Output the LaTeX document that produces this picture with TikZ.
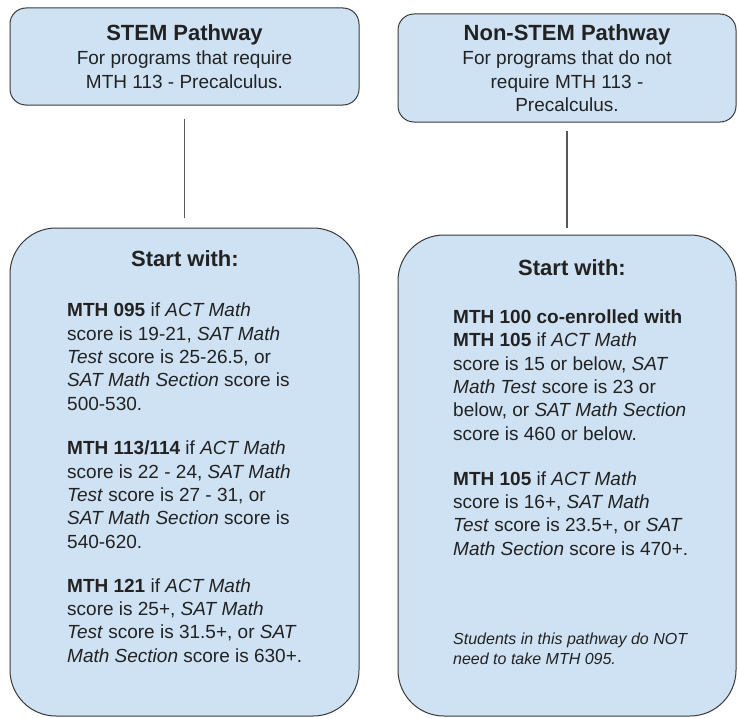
\documentclass[tikz,border=0pt]{standalone}
\usepackage{fontspec}
\setmainfont{Liberation Sans}

\definecolor{boxblue}{HTML}{CFE2F3}
\definecolor{boxline}{HTML}{3A3A3A}
\definecolor{txt}{HTML}{222222}

\tikzset{
  pathbox/.style={draw=boxline, fill=boxblue, line width=1pt, rounded corners=16pt,
    align=center, text=txt, font=\fontsize{19}{23.5}\selectfont},
  startbox/.style={draw=boxline, fill=boxblue, line width=1pt, rounded corners=46pt},
  heading/.style={text=txt, font=\fontsize{22}{26}\selectfont\bfseries, anchor=base, inner sep=0pt},
  % multi-line texts: base anchor sits on the last line
  entry/.style={text=txt, font=\fontsize{19}{23.3}\selectfont, align=left, anchor=base west, inner sep=0pt},
  note/.style={text=txt, font=\fontsize{16}{20}\selectfont\itshape, align=left, anchor=base west, inner sep=0pt},
  link/.style={draw=boxline!85, line width=1.1pt}
}

\begin{document}
\begin{tikzpicture}[x=1pt, y=-1pt]
  \useasboundingbox (0,0) rectangle (738,717);

  % pathway boxes
  \node[pathbox, minimum width=349pt, minimum height=97pt] (stem) at (184.5,56.5)
    {{\fontsize{22}{26}\selectfont\bfseries STEM Pathway}\\[1pt]
     For programs that require\\ MTH 113 - Precalculus.};
  \node[pathbox, minimum width=338pt, minimum height=108pt] (nonstem) at (567,68)
    {{\fontsize{22}{26}\selectfont\bfseries Non-STEM Pathway}\\[1pt]
     For programs that do not\\ require MTH 113 -\\ Precalculus.};

  % start boxes
  \node[startbox, minimum width=349pt, minimum height=488pt] (stemstart) at (184.5,472) {};
  \node[startbox, minimum width=338pt, minimum height=481pt] (nonstemstart) at (567,475.5) {};

  \draw[link, shorten <=13pt, shorten >=10pt] (stem.south) -- (stemstart.north);
  \draw[link, shorten <=8pt, shorten >=7pt] (nonstem.south) -- (nonstemstart.north);

  % STEM start text
  \node[heading] (stemhead) at (185,266) {Start with:};
  \node[entry] (mth095) at (67,410)
    {\textbf{MTH 095} if \textit{ACT Math}\\
     score is 19-21, \textit{SAT Math}\\
     \textit{Test} score is 25-26.5, or\\
     \textit{SAT Math Section} score is\\
     500-530.};
  \node[entry] (mth113) at (67,548)
    {\textbf{MTH 113/114} if \textit{ACT Math}\\
     score is 22 - 24, \textit{SAT Math}\\
     \textit{Test} score is 27 - 31, or\\
     \textit{SAT Math Section} score is\\
     540-620.};
  \node[entry] (mth121) at (67,662)
    {\textbf{MTH 121} if \textit{ACT Math}\\
     score is 25+, \textit{SAT Math}\\
     \textit{Test} score is 31.5+, or \textit{SAT}\\
     \textit{Math Section} score is 630+.};

  % Non-STEM start text
  \node[heading] (nonstemhead) at (572,275) {Start with:};
  \node[entry] (mth100) at (453,440)
    {\textbf{MTH 100 co-enrolled with}\\
     \textbf{MTH 105} if \textit{ACT Math}\\
     score is 15 or below, \textit{SAT}\\
     \textit{Math Test} score is 23 or\\
     below, or \textit{SAT Math Section}\\
     score is 460 or below.};
  \node[entry] (mth105) at (453,555)
    {\textbf{MTH 105} if \textit{ACT Math}\\
     score is 16+, \textit{SAT Math}\\
     \textit{Test} score is 23.5+, or \textit{SAT}\\
     \textit{Math Section} score is 470+.};
  \node[note] (nonote) at (453,664)
    {Students in this pathway do NOT\\
     need to take MTH 095.};
\end{tikzpicture}
\end{document}
